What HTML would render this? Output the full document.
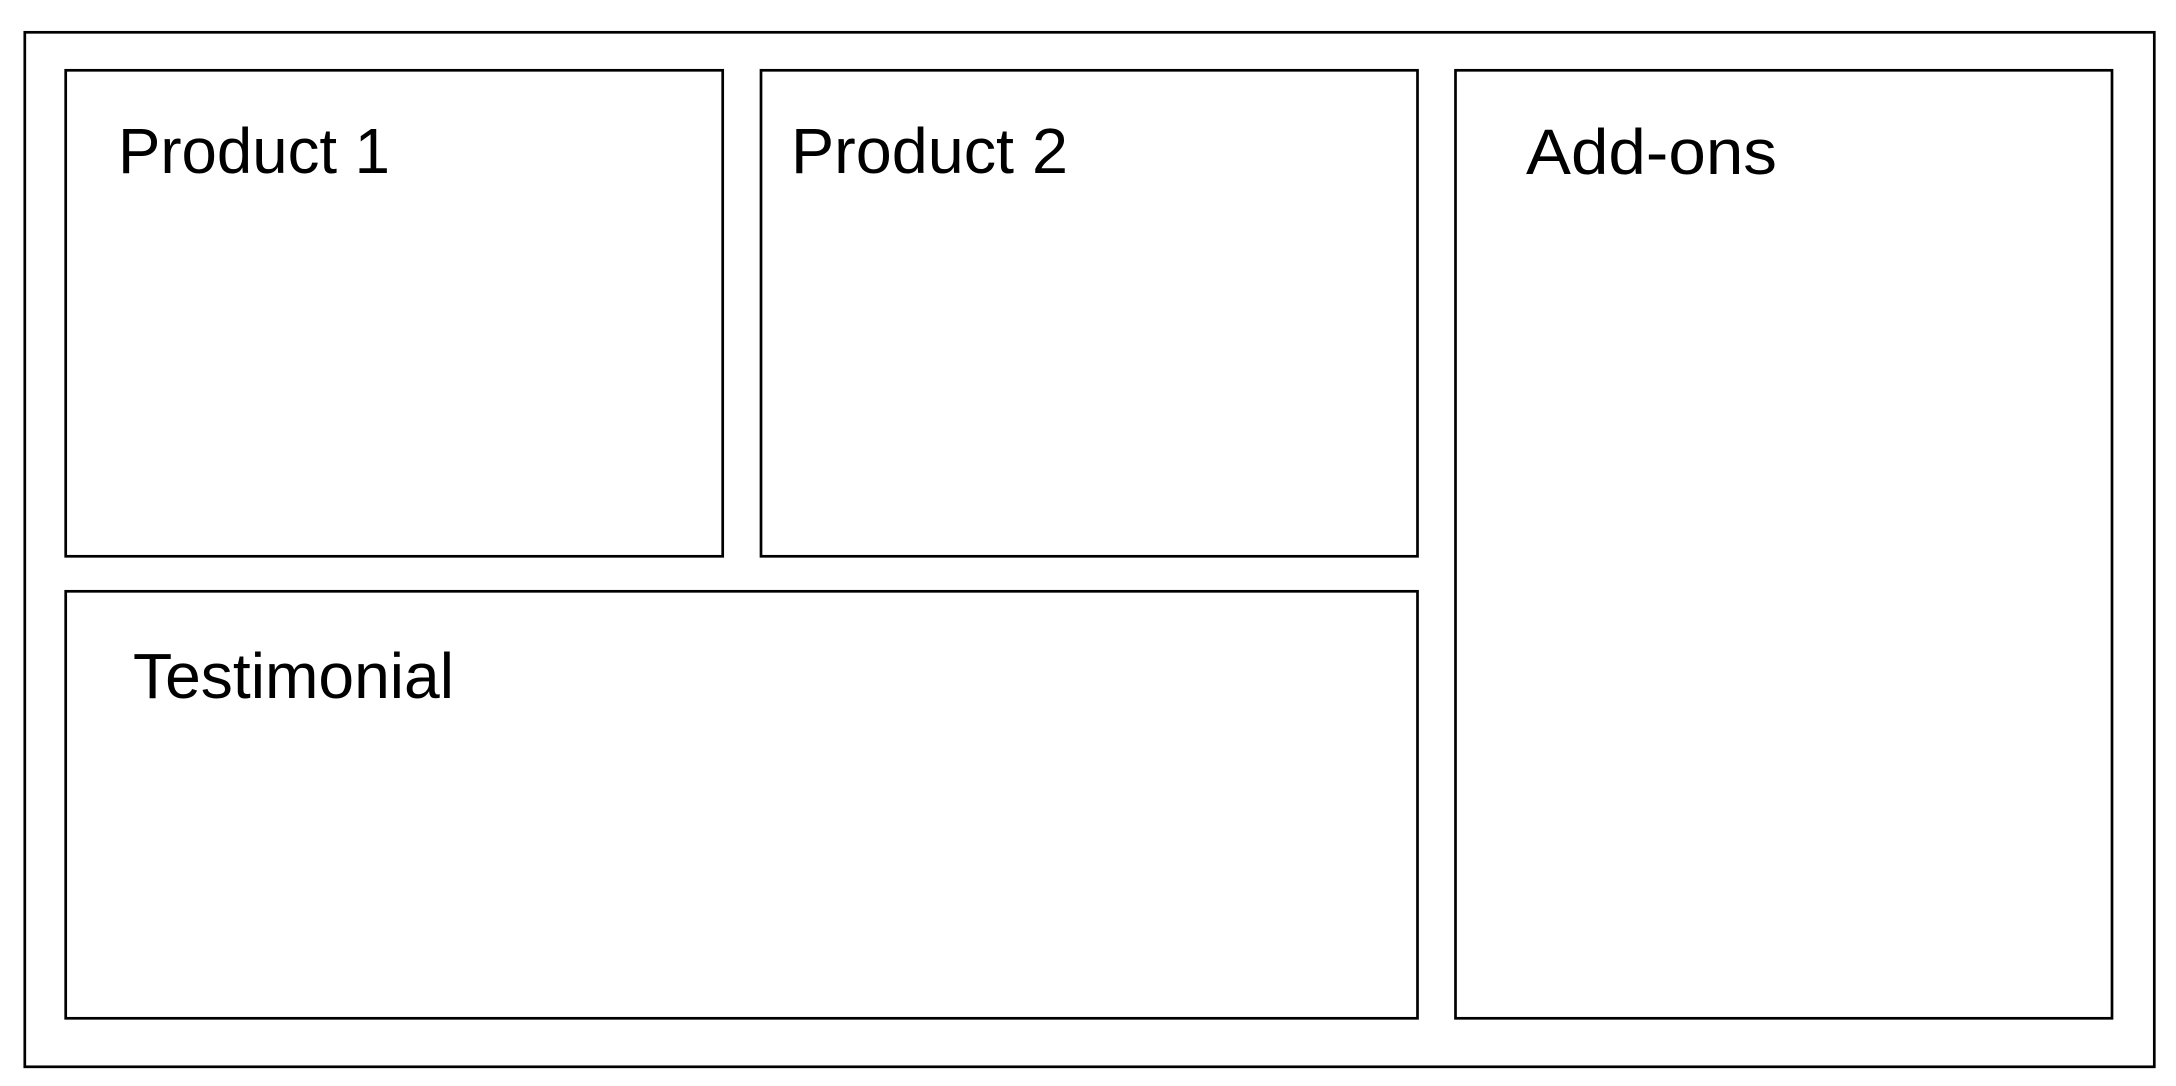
<!DOCTYPE html>
<html><head><meta charset="utf-8"><style>
html,body{margin:0;padding:0;background:#fff;}
svg{display:block;}
text{font-family:"Liberation Sans",Arial,sans-serif;font-size:64px;fill:#000;}
</style></head><body>
<svg width="2176" height="1086" viewBox="0 0 2176 1086" xmlns="http://www.w3.org/2000/svg">
<g fill="none" stroke="#000" stroke-width="2.7">
<rect x="24.8" y="32.3" width="2129.5" height="1034.5"/>
<rect x="65.7" y="70.3" width="657" height="486"/>
<rect x="761" y="70.3" width="656.5" height="486"/>
<rect x="1455.5" y="70.3" width="656.5" height="948"/>
<rect x="65.7" y="591.3" width="1351.8" height="427"/>
</g>
<text x="118" y="173" textLength="272" lengthAdjust="spacingAndGlyphs">Product 1</text>
<text x="791" y="173" textLength="277" lengthAdjust="spacingAndGlyphs">Product 2</text>
<text x="1526" y="174" textLength="251" lengthAdjust="spacingAndGlyphs">Add-ons</text>
<text x="133" y="698" textLength="321" lengthAdjust="spacingAndGlyphs">Testimonial</text>
</svg>
</body></html>
